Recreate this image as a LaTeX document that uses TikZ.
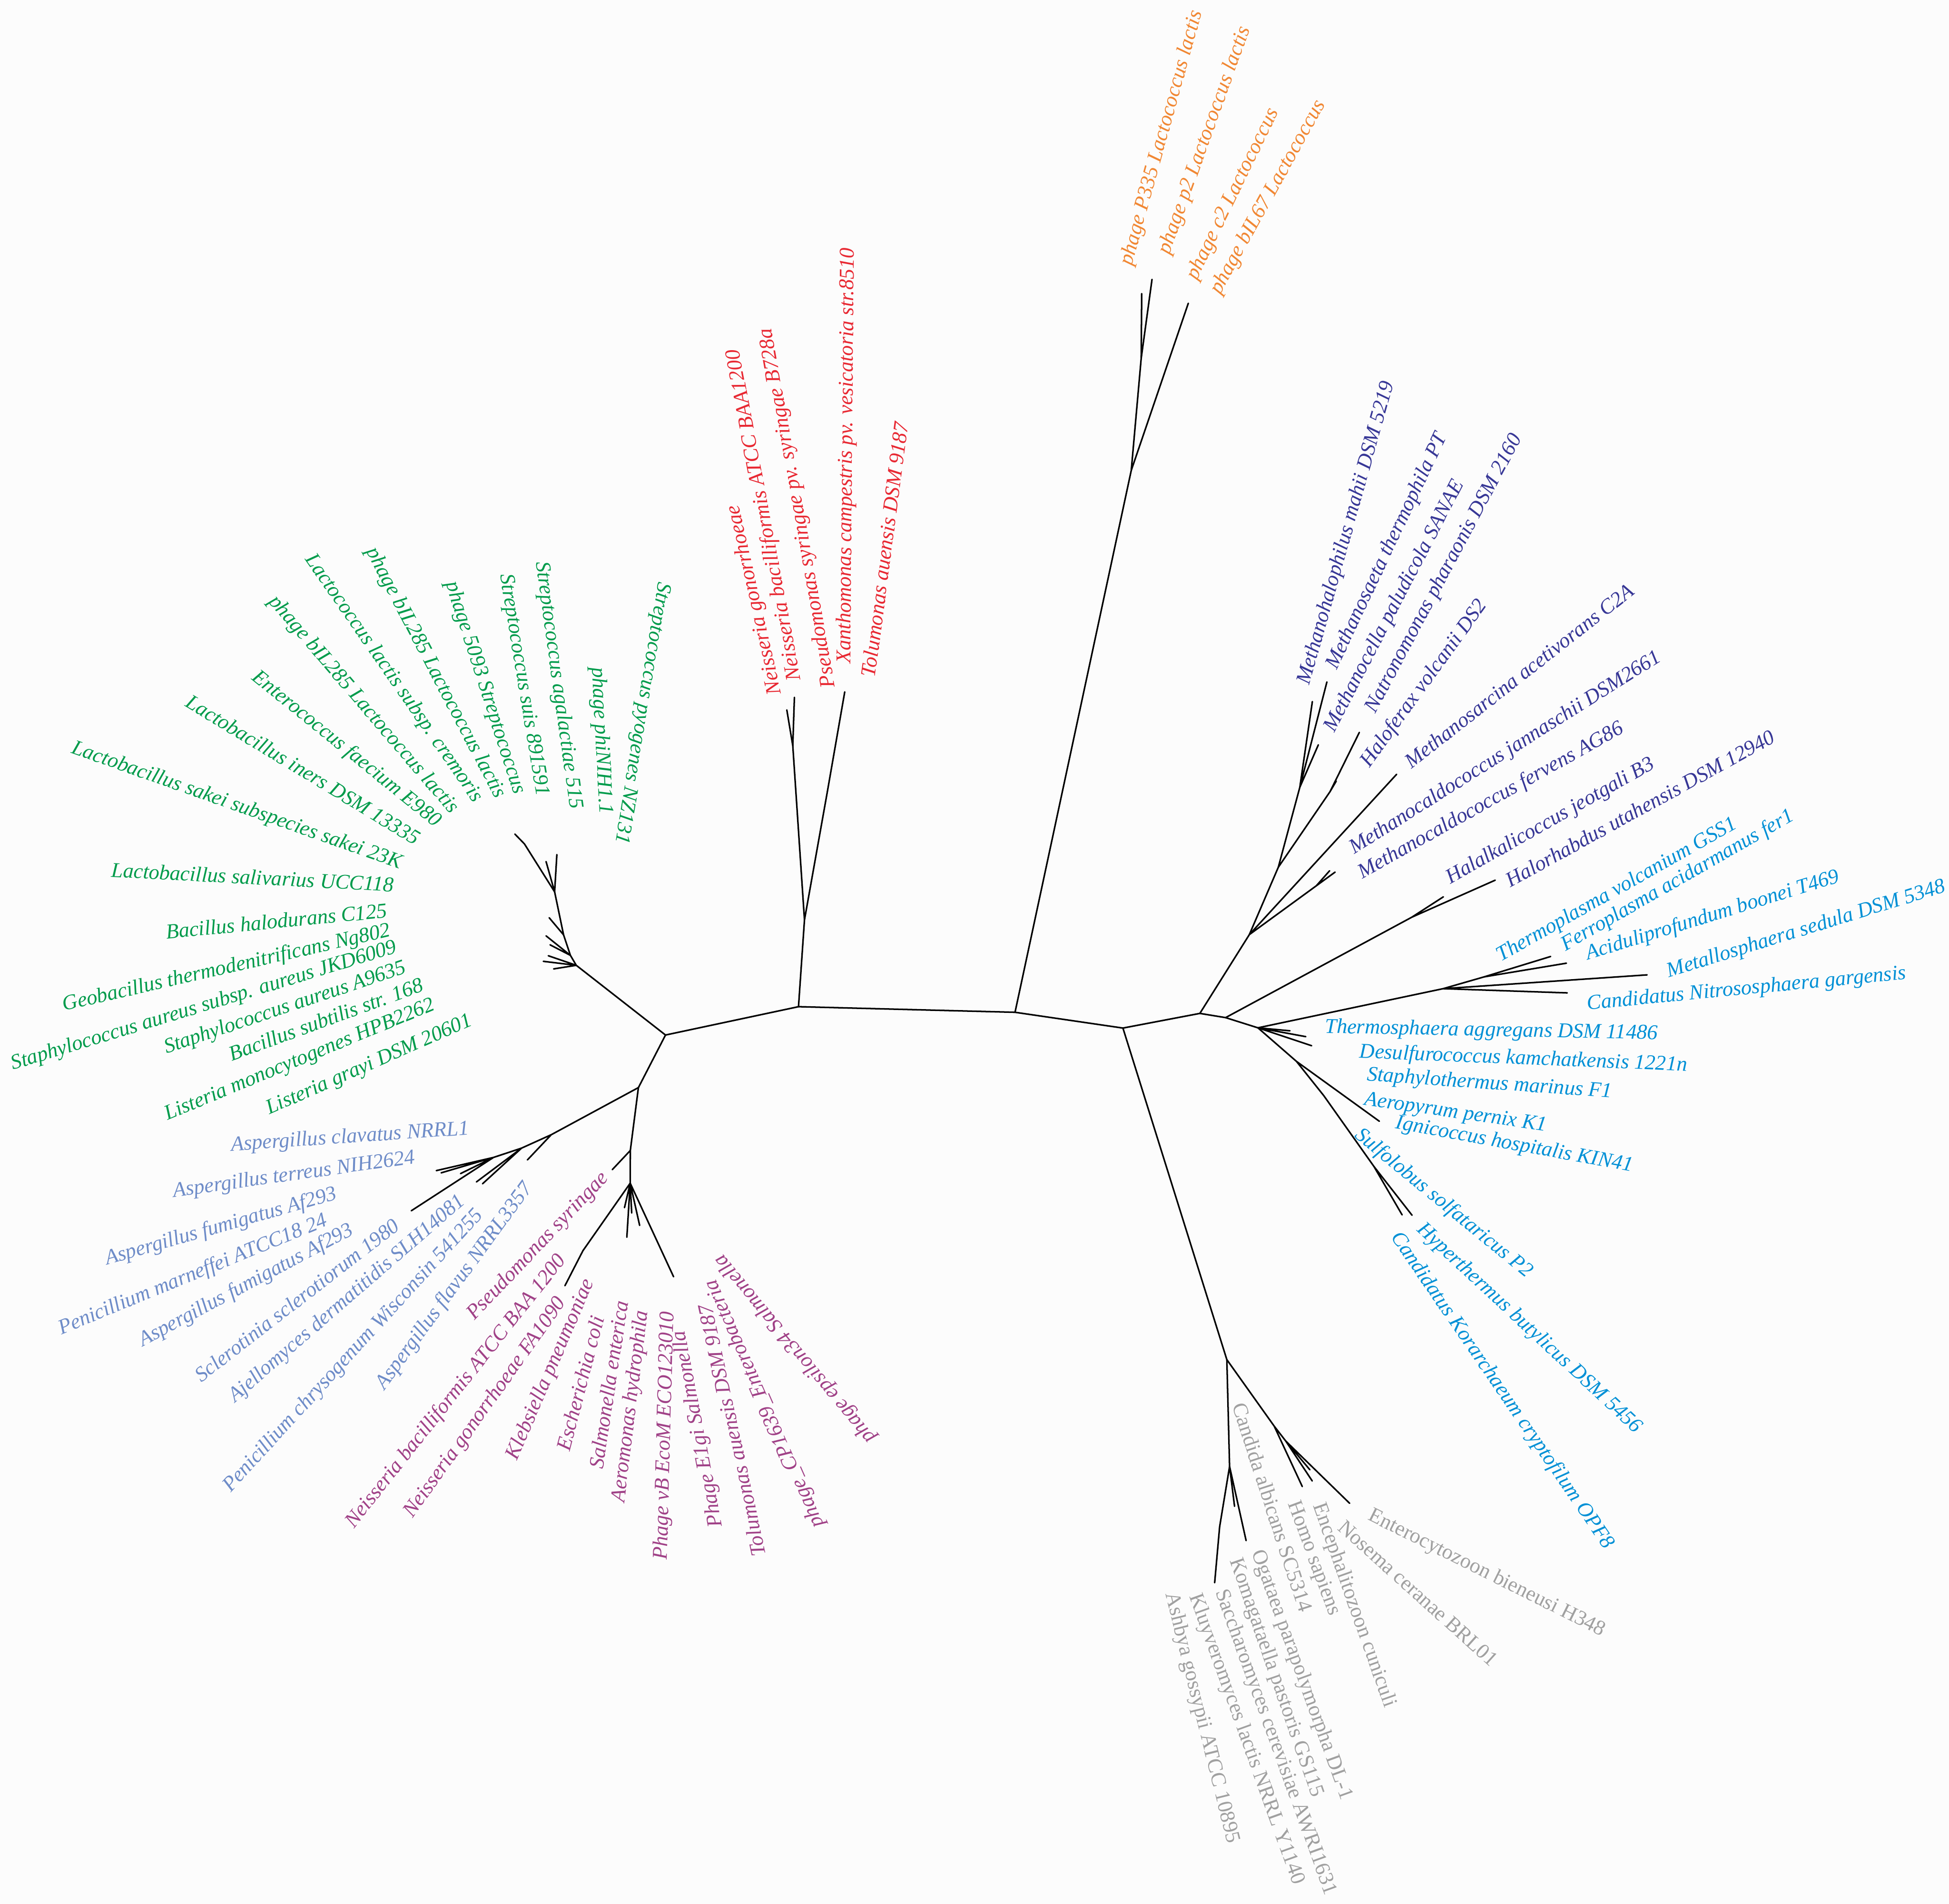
\documentclass[tikz,border=0pt]{standalone}
\usepackage{fontspec}
\setmainfont{Liberation Serif}
\definecolor{corange}{RGB}{241,135,51}
\definecolor{cred}{RGB}{232,40,50}
\definecolor{cgreen}{RGB}{0,155,75}
\definecolor{cperi}{RGB}{110,140,200}
\definecolor{cmag}{RGB}{160,65,135}
\definecolor{cgrey}{RGB}{160,160,160}
\definecolor{ccyan}{RGB}{0,144,214}
\definecolor{cviol}{RGB}{55,55,150}
\definecolor{cbg}{RGB}{252,252,252}
\begin{document}
\begin{tikzpicture}[x=1pt,y=-1pt,
  br/.style={line width=1.25pt,line cap=round,line join=round},
  lab/.style={inner sep=0pt,anchor=center,font=\fontsize{17}{20}\selectfont\itshape},
  labu/.style={inner sep=0pt,anchor=center,font=\fontsize{17}{20}\selectfont\upshape},
  lo/.style={lab,text=corange},
  lr/.style={lab,text=cred},
  lg/.style={lab,text=cgreen},
  lp/.style={lab,text=cperi},
  lm/.style={lab,text=cmag},
  ly/.style={labu,text=cgrey},
  lc/.style={lab,text=ccyan},
  lv/.style={lab,text=cviol}]
\fill[cbg] (0,0) rectangle (1568,1532);
\useasboundingbox (0,0) rectangle (1568,1532);
% ---------- backbone ----------
\coordinate (L0) at (513.6,875.1);
\coordinate (G0) at (535.4,832.8);
\coordinate (R0) at (642.4,810);
\coordinate (O0) at (816.6,814.5);
\coordinate (N1) at (903.4,827.2);
\coordinate (N2) at (965.3,815.4);
\coordinate (N3) at (986,818.8);
\coordinate (N4) at (1012,827);
\draw[br] (L0)--(G0)--(R0)--(O0)--(N1)--(N2)--(N3)--(N4);
% ---------- green ----------
\coordinate (G1) at (463.6,776.7);
\coordinate (G2) at (458.9,768.7);
\coordinate (G3) at (453.4,752.2);
\coordinate (G4) at (446.2,717.6);
\coordinate (G5) at (421.9,679);
\coordinate (g1) at (414.2,671.1);
\coordinate (g2) at (448,687.6);
\coordinate (g3) at (439.3,693.2);
\coordinate (g4) at (441.8,738.4);
\coordinate (g5) at (439.3,753);
\coordinate (g6) at (442.5,760.2);
\coordinate (g7) at (437.1,773.5);
\coordinate (g8) at (445.4,779.6);
\coordinate (g9) at (441.1,769);
\draw[br] (G0)--(G1)--(G2)--(G3)--(G4)--(G5)--(g1);
\draw[br] (G4)--(g2) (G4)--(g3) (G3)--(g4) (G2)--(g5) (G2)--(g6) (G1)--(g7) (G1)--(g8) (G1)--(g9);
% ---------- red ----------
\coordinate (R1) at (647.2,740.2);
\coordinate (R2) at (637.8,600);
\coordinate (R3) at (665.7,636.5);
\coordinate (r1) at (633,571.2);
\coordinate (r2) at (639.1,561.1);
\coordinate (r3) at (679.6,556.7);
\draw[br] (R0)--(R1)--(R2)--(r1) (R2)--(r2) (R1)--(R3)--(r3);
% ---------- orange ----------
\coordinate (O1) at (910.1,378.5);
\coordinate (O2) at (918.1,288.3);
\coordinate (o1) at (918.5,236.2);
\coordinate (o2) at (926.8,224.8);
\coordinate (o3) at (956,244);
\draw[br] (O0)--(O1)--(O2)--(o1) (O2)--(o2) (O1)--(o3);
% ---------- magenta ----------
\coordinate (K1) at (507.1,925.7);
\coordinate (K0) at (507,952);
\coordinate (kps) at (492.6,941.1);
\coordinate (Kb) at (469,1006.3);
\coordinate (k1) at (454.5,1034.5);
\coordinate (k2) at (504.3,995.5);
\coordinate (k3) at (514.6,986);
\coordinate (k4) at (508.2,976);
\coordinate (k5) at (502.4,971.7);
\coordinate (k6) at (541.9,1027.3);
\draw[br] (L0)--(K1)--(K0) (K1)--(kps);
\draw[br] (K0)--(Kb)--(k1) (K0)--(k2) (K0)--(k3) (K0)--(k4) (K0)--(k5) (K0)--(k6);
% ---------- periwinkle ----------
\coordinate (P1) at (443.5,913);
\coordinate (P2) at (419.6,923.8);
\coordinate (P3) at (397,931.3);
\coordinate (p1) at (424.3,933.3);
\coordinate (p2) at (383.3,951);
\coordinate (p3) at (388.2,952.5);
\coordinate (p4) at (351,941.9);
\coordinate (p5) at (354.9,943.7);
\coordinate (p6) at (370.5,944.3);
\coordinate (p7) at (330.9,974.2);
\draw[br] (L0)--(P1)--(P2)--(P3)--(p7) (P1)--(p1) (P2)--(p2) (P2)--(p3) (P3)--(p4) (P3)--(p5) (P3)--(p6);
% ---------- grey ----------
\coordinate (Y1) at (987,1094);
\coordinate (Y2) at (989.2,1179.9);
\coordinate (Y3) at (1025.1,1147.5);
\coordinate (Y4) at (1034.4,1159.5);
\coordinate (Y5) at (981.2,1228.5);
\coordinate (y1) at (1047.7,1196.1);
\coordinate (y2) at (1055.7,1191.6);
\coordinate (y3) at (1053.8,1182.6);
\coordinate (y4) at (1085.8,1209.6);
\coordinate (y5) at (993.2,1212);
\coordinate (y6) at (1002.5,1239.6);
\coordinate (y7) at (977.2,1273.5);
\draw[br] (N1)--(Y1)--(Y2)--(Y5)--(y7) (Y2)--(y5) (Y2)--(y6);
\draw[br] (Y1)--(Y3)--(y1) (Y3)--(Y4)--(y2) (Y4)--(y3) (Y4)--(y4);
% ---------- violet ----------
\coordinate (M1) at (1005.1,752);
\coordinate (M2) at (1028.4,697.8);
\coordinate (M3) at (1059,712.7);
\coordinate (M4) at (1045.7,633.5);
\coordinate (M5) at (1070,637);
\coordinate (m1) at (1074.1,701.7);
\coordinate (m2) at (1069.7,700.6);
\coordinate (m3) at (1123.6,623);
\coordinate (m4) at (1093.6,589.3);
\coordinate (m5) at (1075,628.5);
\coordinate (m6) at (1055.8,564.5);
\coordinate (m7) at (1067.5,548.7);
\coordinate (m8) at (1060.6,599.3);
\draw[br] (N2)--(M1)--(M3)--(m1) (M3)--(m2) (M1)--(m3);
\draw[br] (M1)--(M2)--(M5)--(m4) (M5)--(m5) (M2)--(M4)--(m6) (M4)--(m7) (M4)--(m8);
\coordinate (H1) at (1135.8,738);
\coordinate (h1) at (1161.2,721.6);
\coordinate (h2) at (1202.9,708.2);
\draw[br] (N3)--(H1)--(h1) (H1)--(h2);
% ---------- cyan ----------
\coordinate (C1) at (1161,795.5);
\coordinate (C4) at (1194,786);
\coordinate (C2) at (1043,854);
\coordinate (C3) at (1065,881.6);
\coordinate (C5) at (1105.3,938.5);
\coordinate (c1) at (1325.1,784.4);
\coordinate (c2) at (1260.9,798.9);
\coordinate (c3) at (1247.5,769.6);
\coordinate (c4) at (1260.2,775);
\coordinate (c5) at (1037.8,829.4);
\coordinate (c6) at (1050.5,834.1);
\coordinate (c7) at (1055.2,841.4);
\coordinate (c8) at (1109.7,902.2);
\coordinate (c9) at (1128,977.5);
\coordinate (c10) at (1136,977.8);
\draw[br] (N4)--(C1)--(c1) (C1)--(c2) (C1)--(C4)--(c3) (C4)--(c4);
\draw[br] (N4)--(c5) (N4)--(c6) (N4)--(c7);
\draw[br] (N4)--(C2)--(c8) (C2)--(C3)--(C5)--(c9) (C5)--(c10);
% ---------- labels: orange ----------
\node[lo,rotate=74.5] (lo1) at (934.8,111.1) {phage P335 Lactococcus lactis};
\node[lo,rotate=70.3] (lo2) at (969.3,113) {phage p2 Lactococcus lactis};
\node[lo,rotate=64.1] (lo3) at (992.1,156.2) {phage c2 Lactococcus};
\node[lo,rotate=61.1] (lo4) at (1020.4,158.7) {phage bIL67 Lactococcus};
% ---------- labels: red ----------
\node[lr,rotate=102.7] (lr1) at (607.4,482.7) {Neisseria gonorrhoeae};
\node[lr,rotate=100.6] (lr2) at (615.2,414.5) {Neisseria bacilliformis ATCC BAA1200};
\node[lr,rotate=100.1] (lr3) at (642.1,408.7) {Pseudomonas syringae pv. syringae B728a};
\node[lr,rotate=89.5] (lr4) at (681.5,366.7) {Xanthomonas campestris pv. vesicatoria str.8510};
\node[lr,rotate=82.5] (lr5) at (711.7,442.1) {Tolumonas auensis DSM 9187};
% ---------- labels: green ----------
\node[lg,rotate=-3] (lg1) at (203.2,705.7) {Lactobacillus salivarius UCC118};
\node[lg,rotate=5.5] (lg2) at (222.3,741.1) {Bacillus halodurans C125};
\node[lg,rotate=12.9] (lg3) at (182.3,779.2) {Geobacillus thermodenitrificans Ng802};
\node[lg,rotate=17] (lg4) at (164.2,809.7) {Staphylococcus aureus subsp. aureus JKD6009};
\node[lg,rotate=18.6] (lg5) at (229.5,811.3) {Staphylococcus aureus A9635};
\node[lg,rotate=20.1] (lg6) at (262.2,820) {Bacillus subtilis str. 168};
\node[lg,rotate=22.5] (lg7) at (241.3,853.3) {Listeria monocytogenes HPB2262};
\node[lg,rotate=23.7] (lg8) at (297.2,857.4) {Listeria grayi DSM 20601};
\node[lg,rotate=-19.4] (lg9) at (190.5,648.6) {Lactobacillus sakei subspecies sakei 23K};
\node[lg,rotate=-31.2] (lg10) at (244,619.2) {Lactobacillus iners DSM 13335};
\node[lg,rotate=-39] (lg11) at (278.5,602.9) {Enterococcus faecium E980};
\node[lg,rotate=-49.4] (lg12) at (292.1,567.1) {phage bIL285 Lactococcus lactis};
\node[lg,rotate=-55.3] (lg13) at (316.6,545.9) {Lactococcus lactis subsp. cremoris};
\node[lg,rotate=-62.4] (lg14) at (350.2,541.5) {phage bIL285 Lactococcus lactis};
\node[lg,rotate=-72.1] (lg15) at (390.1,553.5) {phage 5093 Streptococcus};
\node[lg,rotate=-80.6] (lg16) at (420.9,551.3) {Streptococcus suis 891591};
\node[lg,rotate=-82.1] (lg17) at (449,551.3) {Streptococcus agalactiae 515};
\node[lg,rotate=-87] (lg18) at (483.5,596) {phage phiNIH1.1};
\node[lg,rotate=-99.3] (lg19) at (516.2,573.6) {Streptococcus pyogenes NZ131};
% ---------- labels: periwinkle ----------
\node[lp,rotate=3.9] (lp1) at (281.6,915.4) {Aspergillus clavatus NRRL1};
\node[lp,rotate=8] (lp2) at (236.6,945.6) {Aspergillus terreus NIH2624};
\node[lp,rotate=15.9] (lp3) at (177.8,987.3) {Aspergillus fumigatus Af293};
\node[lp,rotate=22.3] (lp4) at (155.3,1026) {Penicillium marneffei ATCC18 24};
\node[lp,rotate=28] (lp5) at (198.1,1034.5) {Aspergillus fumigatus Af293};
\node[lp,rotate=37.7] (lp6) at (238.7,1046) {Sclerotinia sclerotiorum 1980};
\node[lp,rotate=40.9] (lp7) at (279.4,1045.4) {Ajellomyces dermatitidis SLH14081};
\node[lp,rotate=47.6] (lp8) at (284.5,1087.1) {Penicillium chrysogenum Wisconsin 541255};
\node[lp,rotate=53.7] (lp9) at (365.8,1035) {Aspergillus flavus NRRL3357};
% ---------- labels: magenta ----------
\node[lm,rotate=46.4] (lm1) at (433,1002.9) {Pseudomonas syringae};
\node[lm,rotate=51.6] (lm2) at (367,1119.6) {Neisseria bacilliformis ATCC BAA 1200};
\node[lm,rotate=54.6] (lm3) at (390.5,1132.8) {Neisseria gonorrhoeae FA1090};
\node[lm,rotate=66.7] (lm4) at (443.2,1102) {Klebsiella pneumoniae};
\node[lm,rotate=75.3] (lm5) at (466.8,1112.9) {Escherichia coli};
\node[lm,rotate=81.3] (lm6) at (489.6,1114.1) {Salmonella enterica};
\node[lm,rotate=83] (lm7) at (507.7,1131.6) {Aeromonas hydrophila};
\node[lm,rotate=88.5] (lm8) at (535.2,1155.2) {Phage vB EcoM ECO123010};
\node[lm,rotate=100.9] (lm9) at (561.9,1149.8) {Phage E1gi Salmonella};
\node[lm,rotate=102.2] (lm10) at (588.6,1151) {Tolumonas auensis DSM 9187};
\node[lm,rotate=113.8] (lm11) at (615.4,1129.3) {phage\_CP1639\_Enterobacteria};
\node[lm,rotate=129.8] (lm12) at (639.7,1085.1) {phage epsilon34 Salmonella};
% ---------- labels: grey ----------
\node[ly,rotate=-72] (ly1) at (1023.8,1212.8) {Candida albicans SC5314};
\node[ly,rotate=-69.7] (ly2) at (1056.4,1254) {Homo sapiens};
\node[ly,rotate=-70.5] (ly3) at (1089,1291.5) {Encephalitozoon cuniculi};
\node[ly,rotate=-42] (ly4) at (1140.9,1281.8) {Nosema ceranae BRL01};
\node[ly,rotate=-26.5] (ly5) at (1196,1266) {Enterocytozoon bieneusi H348};
\node[ly,rotate=-70.1] (ly6) at (1047,1347.7) {Ogataea parapolymorpha DL-1};
\node[ly,rotate=-70.9] (ly7) at (1026.4,1350) {Komagataella pastoris GS115};
\node[ly,rotate=-70.1] (ly8) at (1025.8,1401.8) {Saccharomyces cerevisiae AWRI1631};
\node[ly,rotate=-70.2] (ly9) at (1002.5,1399.5) {Kluyveromyces lactis NRRL Y1140};
\node[ly,rotate=-76.1] (ly10) at (966.6,1382.3) {Ashbya gossypii ATCC 10895};
% ---------- labels: cyan ----------
\node[lc,rotate=29.5] (lc1) at (1300.9,716.3) {Thermoplasma volcanium GSS1};
\node[lc,rotate=29.8] (lc2) at (1349.7,708.8) {Ferroplasma acidarmanus fer1};
\node[lc,rotate=17.2] (lc3) at (1377.9,737) {Aciduliprofundum boonei T469};
\node[lc,rotate=17.2] (lc4) at (1453.2,748) {Metallosphaera sedula DSM 5348};
\node[lc,rotate=5.5] (lc5) at (1405.2,796) {Candidatus Nitrososphaera gargensis};
\node[lc,rotate=-1.1] (lc6) at (1199.8,829.6) {Thermosphaera aggregans DSM 11486};
\node[lc,rotate=-2.3] (lc7) at (1225.6,852.3) {Desulfurococcus kamchatkensis 1221n};
\node[lc,rotate=-4] (lc8) at (1198.3,872.3) {Staphylothermus marinus F1};
\node[lc,rotate=-8.2] (lc9) at (1171.1,895.8) {Aeropyrum pernix K1};
\node[lc,rotate=-10.4] (lc10) at (1218.3,921.3) {Ignicoccus hospitalis KIN41};
\node[lc,rotate=-39.4] (lc11) at (1161.2,968.4) {Sulfolobus solfataricus P2};
\node[lc,rotate=-42.9] (lc12) at (1230.1,1069) {Hyperthermus butylicus DSM 5456};
\node[lc,rotate=-55.6] (lc13) at (1208.3,1119) {Candidatus Korarchaeum cryptofilum OPF8};
% ---------- labels: violet ----------
\node[lv,rotate=74.3] (lv1) at (1083.5,428.9) {Methanohalophilus mahii DSM 5219};
\node[lv,rotate=64.7] (lv2) at (1116.1,443.5) {Methanosaeta thermophila PT};
\node[lv,rotate=62.5] (lv3) at (1122,487.7) {Methanocella paludicola SANAE};
\node[lv,rotate=62] (lv4) at (1161.9,461.6) {Natronomonas pharaonis DSM 2160};
\node[lv,rotate=54.1] (lv5) at (1145.9,550.1) {Haloferax volcanii DS2};
\node[lv,rotate=38.1] (lv6) at (1222.1,543.6) {Methanosarcina acetivorans C2A};
\node[lv,rotate=32.2] (lv7) at (1211.2,606) {Methanocaldococcus jannaschii DSM2661};
\node[lv,rotate=29.2] (lv8) at (1199.6,644.5) {Methanocaldococcus fervens AG86};
\node[lv,rotate=29.6] (lv9) at (1247.5,661.1) {Halalkalicoccus jeotgali B3};
\node[lv,rotate=28.8] (lv10) at (1319.4,650.3) {Halorhabdus utahensis DSM 12940};
\end{tikzpicture}
\end{document}
